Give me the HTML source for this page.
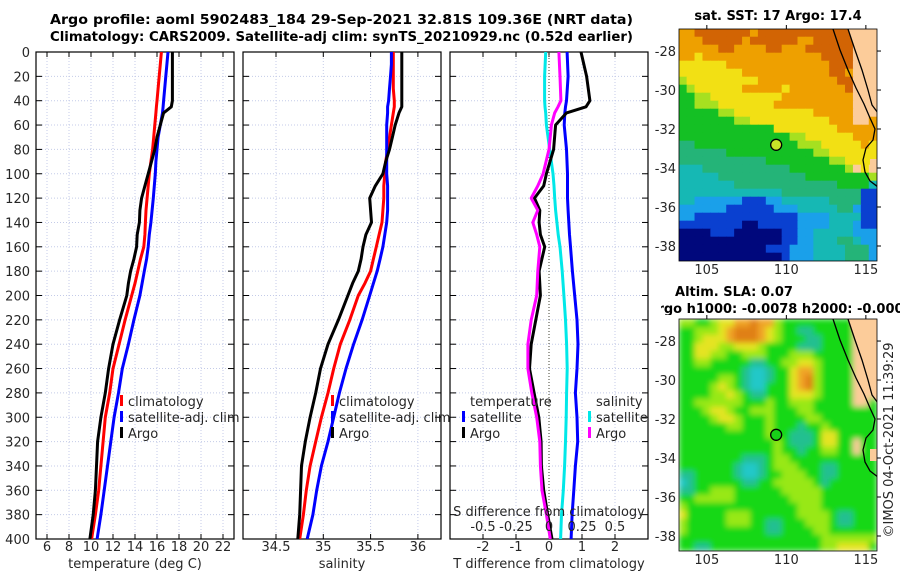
<!DOCTYPE html>
<html><head><meta charset="utf-8">
<style>
html,body{margin:0;padding:0;background:#fff;}
svg{display:block;font-family:"DejaVu Sans","Liberation Sans",sans-serif;}
.tk{font-size:13px;fill:#262626;}
.ttl{font-size:13px;font-weight:bold;fill:#000;}
</style></head>
<body>
<svg id="fig" width="900" height="580" viewBox="0 0 900 580" xmlns="http://www.w3.org/2000/svg">
<defs>
<clipPath id="c1"><rect x="36" y="52" width="198" height="487"/></clipPath>
<clipPath id="c2"><rect x="243" y="52" width="198" height="487"/></clipPath>
<clipPath id="c3"><rect x="450" y="52" width="198" height="487"/></clipPath>
<clipPath id="cm1"><rect x="679" y="29" width="198" height="232"/></clipPath>
<clipPath id="cm2"><rect x="679" y="319" width="198" height="232"/></clipPath>
<clipPath id="ctitle2"><rect x="661" y="295" width="239" height="20"/></clipPath>
<filter id="blur" x="0" y="0" width="1" height="1"><feGaussianBlur stdDeviation="3"/></filter>
</defs>
<text class="ttl" x="50" y="24" textLength="583" lengthAdjust="spacingAndGlyphs">Argo profile: aoml 5902483_184 29-Sep-2021 32.81S 109.36E (NRT data)</text>
<text class="ttl" x="50" y="41" textLength="583" lengthAdjust="spacingAndGlyphs">Climatology: CARS2009. Satellite-adj clim: synTS_20210929.nc (0.52d earlier)</text>
<g id="plots"></g>
<text class="ttl" x="778" y="20" text-anchor="middle">sat. SST: 17 Argo: 17.4</text>
<text class="ttl" x="734" y="296" text-anchor="middle">Altim. SLA: 0.07</text>
<g clip-path="url(#ctitle2)"><text class="ttl" x="780" y="313" text-anchor="middle">Argo h1000: -0.0078 h2000: -0.0002</text></g>
<text class="tk" transform="translate(893,440) rotate(-90)" text-anchor="middle">©IMOS 04-Oct-2021 11:39:29</text>
</svg>
<script>
const depths = [0,10,20,30,40,45,50,60,70,80,90,100,110,120,130,140,150,160,170,180,190,200,220,240,260,280,300,320,340,360,380,400];
const argoTemp = [17.4,17.4,17.4,17.4,17.4,17.3,16.6,16.3,16.0,15.8,15.5,15.2,14.9,14.6,14.45,14.4,14.2,14.15,13.9,13.6,13.4,13.25,12.6,12.0,11.6,11.3,10.9,10.6,10.5,10.4,10.2,9.9];
const climTemp = [16.4,16.3,16.2,16.1,16.0,15.95,15.9,15.8,15.7,15.6,15.45,15.3,15.2,15.1,15.0,14.95,14.9,14.8,14.5,14.25,14.0,13.7,13.1,12.55,12.0,11.7,11.3,11.1,10.9,10.7,10.4,10.05];
const satTemp = [17.0,16.9,16.8,16.7,16.6,16.55,16.5,16.3,16.1,16.0,15.9,15.85,15.75,15.66,15.55,15.45,15.3,15.2,15.05,14.85,14.65,14.45,13.9,13.4,12.85,12.5,12.1,11.8,11.5,11.2,10.9,10.55];
const argoSal = [35.83,35.83,35.83,35.83,35.83,35.83,35.80,35.76,35.73,35.70,35.66,35.63,35.55,35.49,35.50,35.51,35.45,35.42,35.40,35.37,35.31,35.26,35.16,35.05,34.97,34.92,34.86,34.81,34.77,34.76,34.75,34.73];
const climSal = [35.74,35.74,35.74,35.74,35.75,35.75,35.74,35.72,35.70,35.68,35.66,35.65,35.64,35.64,35.63,35.62,35.59,35.56,35.53,35.50,35.44,35.37,35.28,35.18,35.11,35.05,34.98,34.92,34.86,34.82,34.79,34.75];
const satSal = [35.72,35.72,35.71,35.70,35.69,35.68,35.68,35.67,35.67,35.67,35.67,35.67,35.68,35.68,35.68,35.67,35.65,35.63,35.60,35.57,35.53,35.49,35.41,35.32,35.24,35.17,35.11,35.05,34.98,34.93,34.89,34.83];
const diffDepths = [0,20,40,45,50,60,80,100,110,120,130,140,150,160,180,200,220,240,260,280,300,320,340,360,380,400];
const argoTDiff = [0.97,1.14,1.24,1.12,0.53,0.2,0.14,-0.08,-0.16,-0.44,-0.28,-0.3,-0.26,-0.13,-0.3,-0.26,-0.4,-0.54,-0.59,-0.45,-0.31,-0.24,-0.23,-0.16,-0.04,0.09];
const satTDiff = [0.55,0.58,0.53,0.5,0.48,0.46,0.53,0.56,0.56,0.56,0.58,0.6,0.62,0.65,0.71,0.78,0.85,0.88,0.85,0.8,0.85,0.87,0.8,0.75,0.7,0.67];
const argoSDiff = [0.075,0.083,0.09,0.068,0.043,0.018,0,-0.045,-0.085,-0.135,-0.085,-0.123,-0.093,-0.07,-0.085,-0.093,-0.135,-0.16,-0.16,-0.13,-0.093,-0.07,-0.065,-0.053,-0.02,0.01];
const satSDiff = [-0.025,-0.033,-0.033,-0.03,-0.025,-0.02,0.005,0.03,0.038,0.043,0.05,0.06,0.07,0.083,0.1,0.113,0.125,0.133,0.138,0.133,0.13,0.125,0.118,0.108,0.095,0.088];
const depthTicks = [0,20,40,60,80,100,120,140,160,180,200,220,240,260,280,300,320,340,360,380,400];
const tempTicks = [6,8,10,12,14,16,18,20,22];
const salTicks = [34.5,35,35.5,36];
const tDiffTicks = [-2,-1,0,1,2];
const sDiffTicks = [-0.5,-0.25,0,0.25,0.5];
const sDiffLabels = ['-0.5','-0.25','0','0.25','0.5'];

const sstRows = [
"8899999998999999999999LLL","8889999989999998899999LLL","8888899888899888999999LLL","8878888888888888889999LLL",
"7777778888888888888999LLL","7777777788888888888998LLL","6777777777888888888899LLL","5677777788888788888889LLL",
"5566777777777888888888LLL","5566677777778888888888LLL","5555566777777777788888LLL","5555555667777777777888LL8",
"5555555555557777777788888","5555555555555566777777888","4455555555555556667777787","4444445555555555566777777",
"4444444444455555555667777","3334444444444455555556L7L","3333344444444444555555556","3333333444444444444455553",
"3333333333333444444444411","3322222211122333333444411","2222221111112223333344211","2211111111111112222333311",
"1111111100111112222333211","0000111000000112233333222","0000000000000112233344322","0000000000011122233334442",
"0000000000000122233334442"];
const slaRows = [
"3322344556553222222222LLL","2233345666543221122222LLL","2234445666543222112222LLL","2244433444322221112222LLL",
"2244332233322233322222LLL","2233222221122334432222LLL","2222222210012245532222LLL","2222233210012245632222LLL",
"2222343210022245632222LLL","2222334321122244432222LLL","2233333322232233322222LL2","2223443223332223322222222",
"2222344322232222332222222","2222223322232221223222222","2222222222232211124422222","2222222222223211124422L22",
"2222222222223221223322L22","2222222211123322222222222","2222222100123332221122222","1122222100122333221122222",
"0122222211223333321222222","1122333222222333332222222","2233333222222233332222222","3222222222222223332222222",
"4222223332222223333211222","3222223332211222333211222","3222222222211222233222222","2222222222222222223333333",
"2211222222222222223344442"];
const sstColors = {"0":"#00087c","1":"#0a40d0","2":"#1aa0ea","3":"#16b8b4","4":"#24b478","5":"#14c024","6":"#a6e020","7":"#f2e014","8":"#eea000","9":"#d26404","L":"#fccc9a"};
const slaColors = {"0":"#24c8c8","1":"#22c090","2":"#18d818","3":"#98e818","4":"#e4e424","5":"#f0a428","6":"#e08018","L":"#fccc9a"};
const latTicks = [-28,-30,-32,-34,-36,-38];
const lonTicks = [105,110,115];
const argoLon = 109.36, argoLat = -32.81;

const yD = d => 52 + d/400*487;
const xT = v => 36 + (v-5)/18*198;
const xS = v => 323.3 + (v-35)*94.6;
const xD = v => 450 + (v+3)/6*198;
const xDS = v => xD(v*4);
const mx = lon => 679 + (lon-103.25)/(115.7-103.25)*198;
const my = (lat,top) => top + (-26.87-lat)/11.9*232;

const NS='http://www.w3.org/2000/svg';
const root=document.getElementById('plots');
function mk(tag,attrs,parent){const e=document.createElementNS(NS,tag);for(const k in attrs)e.setAttribute(k,attrs[k]);(parent||root).appendChild(e);return e;}
function txt(s,attrs,parent){const e=mk('text',attrs,parent);e.textContent=s;return e;}

function panel(x0,ticks,xf,labels,clip,name){
  const g=mk('g',{});
  
  
  ticks.forEach((t,i)=>{const x=xf(t);
    mk('line',{x1:x,x2:x,y1:52,y2:539,stroke:'#c4cbe8','stroke-width':1,'stroke-dasharray':'1,2'},g);
    mk('line',{x1:x,x2:x,y1:539,y2:534,stroke:'#000'},g);
    mk('line',{x1:x,x2:x,y1:52,y2:57,stroke:'#000'},g);
    if(labels){const l=txt(labels[i],{x:x,y:551,'text-anchor':'middle',class:'tk'},g);
      
      }
  });
  depthTicks.forEach(d=>{const y=yD(d);
    mk('line',{x1:x0,x2:x0+198,y1:y,y2:y,stroke:'#c4cbe8','stroke-width':1,'stroke-dasharray':'1,2'},g);
    mk('line',{x1:x0,x2:x0+6,y1:y,y2:y,stroke:'#000'},g);
    mk('line',{x1:x0+198,x2:x0+192,y1:y,y2:y,stroke:'#000'},g);
  });
  mk('rect',{x:x0,y:52,width:198,height:487,fill:'none',stroke:'#000','stroke-width':1.2},g);
  return g;
}
function series(xs,ds,xf,color,clip,name){
  const pts=xs.map((v,i)=>xf(v).toFixed(1)+','+yD(ds[i]).toFixed(1)).join(' ');
  const p=mk('polyline',{points:pts,fill:'none',stroke:color,'stroke-width':3,'stroke-linejoin':'round','clip-path':'url(#'+clip+')'});
  
  
}
function legend(x,y,color,label,name){
  const g=mk('g',{});
  
  
  if(color) mk('rect',{x:x,y:y-11,width:3,height:11,fill:color},g);
  txt(label,{x:x+8,y:y,class:'tk','font-size':'13px'},g);
}

depthTicks.forEach(d=>{const l=txt(String(d),{x:30,y:yD(d)+5,'text-anchor':'end',class:'tk'});
  
  });

panel(36,tempTicks,xT,tempTicks.map(String),'c1','temperature-panel');
series(climTemp,depths,xT,'#ff0000','c1','temp-climatology-line');
series(satTemp,depths,xT,'#0000ff','c1','temp-satellite-line');
series(argoTemp,depths,xT,'#000000','c1','temp-argo-line');
const xl1=txt('temperature (deg C)',{x:135,y:568,'text-anchor':'middle',class:'tk'});

legend(120,406,'#ff0000','climatology','legend-climatology');
legend(120,422,'#0000ff','satellite-adj. clim','legend-satellite');
legend(120,438,'#000000','Argo','legend-argo');

panel(243,salTicks,xS,salTicks.map(String),'c2','salinity-panel');
series(climSal,depths,xS,'#ff0000','c2','sal-climatology-line');
series(satSal,depths,xS,'#0000ff','c2','sal-satellite-line');
series(argoSal,depths,xS,'#000000','c2','sal-argo-line');
const xl2=txt('salinity',{x:342,y:568,'text-anchor':'middle',class:'tk'});

legend(331,406,'#ff0000','climatology','legend-sal-climatology');
legend(331,422,'#0000ff','satellite-adj. clim','legend-sal-satellite');
legend(331,438,'#000000','Argo','legend-sal-argo');

panel(450,tDiffTicks,xD,tDiffTicks.map(String),'c3','difference-panel');
mk('line',{x1:xD(0),x2:xD(0),y1:52,y2:539,stroke:'#404030','stroke-width':1,'stroke-dasharray':'1,2'});
series(satSDiff,diffDepths,xDS,'#00e8e8','c3','sal-diff-satellite-line');
series(satTDiff,diffDepths,xD,'#0000ff','c3','temp-diff-satellite-line');
series(argoTDiff,diffDepths,xD,'#000000','c3','temp-diff-argo-line');
series(argoSDiff,diffDepths,xDS,'#ff00ff','c3','sal-diff-argo-line');
const xl3=txt('T difference from climatology',{x:549,y:568,'text-anchor':'middle',class:'tk'});

const sl=txt('S difference from climatology',{x:549,y:516,'text-anchor':'middle',class:'tk'});

sDiffTicks.forEach((t,i)=>{const l=txt(sDiffLabels[i],{x:xDS(t),y:531,'text-anchor':'middle',class:'tk'});
  });
legend(462,406,null,'temperature','legend-temperature-header');
legend(462,422,'#0000ff','satellite','legend-temp-satellite');
legend(462,438,'#000000','Argo','legend-temp-argo');
legend(588,406,null,'salinity','legend-salinity-header');
legend(588,422,'#00e8e8','satellite','legend-sal-diff-satellite');
legend(588,438,'#ff00ff','Argo','legend-sal-diff-argo');

function map(rows,colors,top,clip,name,blur,markerFill){
  const g=mk('g',{'clip-path':'url(#'+clip+')'});
  
  
  const inner=mk('g',blur?{filter:'url(#blur)'}:{},g);
  const cw=198/25, ch=232/29;
  rows.forEach((r,ri)=>{for(let ci=0;ci<25;ci++){const c=r[ci]||r[r.length-1];
    mk('rect',{x:(679+ci*cw-0.3).toFixed(2),y:(top+ri*ch-0.3).toFixed(2),width:(cw+0.6).toFixed(2),height:(ch+0.6).toFixed(2),fill:colors[c]},inner);}});
  const o=top-29;
  mk('path',{d:`M848,${29+o} L878,${29+o} L878,${113+o} L872,${105+o} L868,${90+o} L862,${70+o} L855,${50+o} Z`,fill:'#fccc9a'},g);
  mk('path',{d:`M848,${29+o} L855,${50+o} L862,${70+o} L868,${90+o} L872,${105+o} L878,${113+o}`,fill:'none',stroke:'#000','stroke-width':1.3},g);
  mk('path',{d:`M833,${29+o} L840,${50+o} L848,${70+o} L856,${88+o} L864,${104+o} L870,${118+o} L875,${129+o} L873,${140+o} L866,${148+o} L863,${160+o} L865,${172+o} L870,${181+o} L878,${187+o}`,fill:'none',stroke:'#000','stroke-width':1.3},g);
  mk('rect',{x:870,y:159+o,width:8,height:12,fill:'#fccc9a'},g);
  const m=mk('circle',{cx:mx(argoLon),cy:my(argoLat,top),r:5.5,fill:markerFill,stroke:'#000','stroke-width':1.3});
  
  
  mk('rect',{x:679,y:top,width:198,height:232,fill:'none',stroke:'#000','stroke-width':0.8});
  latTicks.forEach(l=>{const y=my(l,top);
    mk('line',{x1:877,x2:881,y1:y,y2:y,stroke:'#000'});
    const t=txt(String(l),{x:676,y:y+5,'text-anchor':'end',class:'tk'});
    });
  lonTicks.forEach(l=>{const x=mx(l);
    mk('line',{x1:x,x2:x,y1:top,y2:top-4,stroke:'#000'});
    const t=txt(String(l),{x:x,y:top+232+13,'text-anchor':'middle',class:'tk'});
    });
}
map(sstRows,sstColors,29,'cm1','sst-map',false,'#c8e428');
map(slaRows,slaColors,319,'cm2','sla-map',true,'#18d018');
</script>
</body></html>
